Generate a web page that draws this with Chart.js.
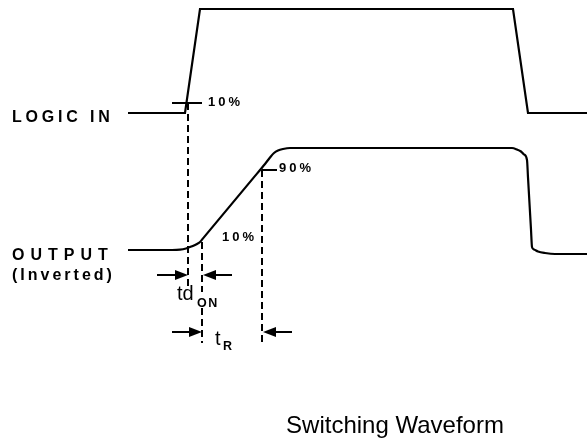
<!DOCTYPE html>
<html>
<head>
<meta charset="utf-8">
<script src="https://cdn.jsdelivr.net/npm/chart.js@4.4.1/dist/chart.umd.min.js"></script>
<style>
  html, body { margin: 0; padding: 0; background: #fff; }
  #wrap { width: 587px; height: 443px; }
</style>
</head>
<body>
<div id="wrap"><canvas id="waveChart" width="587" height="443"></canvas></div>
<script>
// Units follow the original figure grid: x = time (0..587), y = level, measured downward (0..443)

// LOGIC IN trace
const logicInX = [128, 185, 200, 513, 528, 587];
const logicInY = [113, 113, 9, 9, 113, 113];

// OUTPUT (Inverted) trace
const outputX = [128, 172, 180, 186, 192, 197, 200, 203, 253, 265, 270, 274, 278, 283, 290,
                 512, 517, 521, 524, 527, 528, 531, 532, 534, 538, 545, 555, 587];
const outputY = [250, 250, 249.7, 248.5, 246.3, 244, 242, 238.4, 178.4, 164, 157.5, 153, 150.5, 149, 148,
                 148, 149.5, 151.5, 154.5, 160, 177.4, 229.6, 247, 249.5, 251.5, 253, 254, 254];

// measurement points
const tIn10 = 188;    // logic in reaches 10%
const tOut10 = 202;   // output reaches 10%
const tOut90 = 262;   // output reaches 90%
const in10Level = 103;
const out10Level = 242;
const out90Level = 170;

// rows of the timing arrows
const tdOnRow = 275;
const tRRow = 332;

const pts = (xs, ys) => xs.map((x, i) => ({ x: x, y: ys[i] }));

// small arrowhead used as a point style
const arrowHead = document.createElement('canvas');
arrowHead.width = 13;
arrowHead.height = 10;
(function () {
  const c = arrowHead.getContext('2d');
  c.fillStyle = '#000';
  c.beginPath();
  c.moveTo(0, 0);
  c.lineTo(13, 5);
  c.lineTo(0, 10);
  c.closePath();
  c.fill();
})();

function solid(data) {
  return { data: data, showLine: true, borderColor: '#000', borderWidth: 2, pointRadius: 0, pointHoverRadius: 0, tension: 0 };
}
function dashed(data) {
  return { data: data, showLine: true, borderColor: '#000', borderWidth: 2, borderDash: [7, 4], pointRadius: 0, pointHoverRadius: 0, tension: 0 };
}
// arrow from tail to tip, head drawn as point at the tip end
function arrow(tail, tip, row) {
  const dir = tip > tail ? 1 : -1;
  return {
    data: [{ x: tail, y: row }, { x: tip - dir * 6.5, y: row }],
    showLine: true, borderColor: '#000', borderWidth: 2,
    pointStyle: arrowHead,
    pointRotation: dir > 0 ? 0 : 180,
    pointHoverRadius: 0,
    pointRadius: c => (c.dataIndex === 1 ? 6 : 0)
  };
}

const labels = [
  { text: 'LOGIC IN', x: 12, y: 122, font: 'bold 16px "Liberation Sans", Arial', spacing: '3.8px' },
  { text: 'OUTPUT', x: 12, y: 260, font: 'bold 16px "Liberation Sans", Arial', spacing: '6px' },
  { text: '(Inverted)', x: 12, y: 280, font: 'bold 16px "Liberation Sans", Arial', spacing: '3px' },
  { text: '10%', x: 208, y: 106, font: 'bold 13px "Liberation Sans", Arial', spacing: '3px' },
  { text: '10%', x: 222, y: 241, font: 'bold 13px "Liberation Sans", Arial', spacing: '3px' },
  { text: '90%', x: 279, y: 172, font: 'bold 13px "Liberation Sans", Arial', spacing: '3px' },
  { text: 'td', x: 177, y: 300, font: '20px "Liberation Sans", Arial' },
  { text: 'ON', x: 197, y: 307, font: 'bold 12.5px "Liberation Sans", Arial', spacing: '1.5px' },
  { text: 't', x: 215, y: 345, font: '20px "Liberation Sans", Arial' },
  { text: 'R', x: 223, y: 350, font: 'bold 12.5px "Liberation Sans", Arial' },
  { text: 'Switching Waveform', x: 395, y: 433, font: '24px "Liberation Sans", Arial', align: 'center' }
];

const textPlugin = {
  id: 'waveText',
  afterDatasetsDraw(chart) {
    const ctx = chart.ctx;
    const xs = chart.scales.x, ys = chart.scales.y;
    labels.forEach(l => {
      ctx.save();
      ctx.font = l.font;
      ctx.letterSpacing = l.spacing || '0px';
      ctx.fillStyle = '#000';
      ctx.textAlign = l.align || 'left';
      ctx.textBaseline = 'alphabetic';
      ctx.fillText(l.text, xs.getPixelForValue(l.x), ys.getPixelForValue(l.y));
      ctx.restore();
    });
  }
};

const datasets = [
  Object.assign(solid(pts(logicInX, logicInY)), { borderWidth: 2.2 }),
  Object.assign(solid(pts(outputX, outputY)), { borderWidth: 2.2, cubicInterpolationMode: 'monotone' }),
  // 10% / 90% ticks
  solid([{ x: 172, y: in10Level }, { x: 202, y: in10Level }]),
  solid([{ x: tOut90, y: out90Level }, { x: 277, y: out90Level }]),
  // dashed verticals
  dashed([{ x: tIn10, y: in10Level }, { x: tIn10, y: 288 }]),
  dashed([{ x: tOut10, y: out10Level }, { x: tOut10, y: 292 }]),
  dashed([{ x: tOut10, y: 308 }, { x: tOut10, y: 343 }]),
  dashed([{ x: tOut90, y: out90Level }, { x: tOut90, y: 343 }]),
  // timing arrows
  arrow(157, tIn10, tdOnRow),
  arrow(232, tOut10 + 1, tdOnRow),
  arrow(172, tOut10, tRRow),
  arrow(292, tOut90 + 1, tRRow)
];

const ctx = document.getElementById('waveChart').getContext('2d');
const waveChart = new Chart(ctx, {
  type: 'scatter',
  data: { datasets: datasets },
  options: {
    responsive: false,
    animation: false,
    events: [],
    layout: { padding: 0, autoPadding: false },
    scales: {
      x: { type: 'linear', min: 0, max: 587, display: false },
      y: { type: 'linear', min: 0, max: 443, reverse: true, display: false }
    },
    plugins: {
      legend: { display: false },
      tooltip: { enabled: false },
      title: { display: false }
    }
  },
  plugins: [textPlugin]
});
</script>
</body>
</html>
